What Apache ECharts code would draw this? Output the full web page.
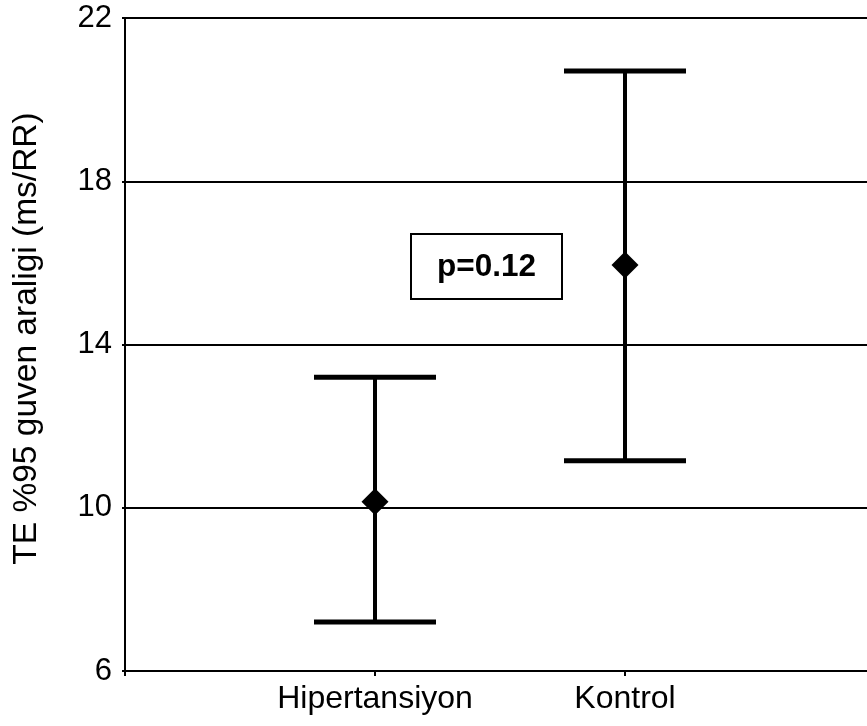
<!DOCTYPE html>
<html>
<head>
<meta charset="utf-8">
<script src="https://cdn.jsdelivr.net/npm/echarts@6/dist/echarts.min.js"></script>
<style>
html,body{margin:0;padding:0;background:#fff;}
#chart{width:867px;height:726px;}
</style>
</head>
<body>
<div id="chart"></div>
<script>
var categories = ['Hipertansiyon', 'Kontrol'];
var means = [10.15, 15.95];
var lower = [7.2, 11.15];
var upper = [13.2, 20.7];
var yTicks = [6, 10, 14, 18, 22];
var yTitle = 'TE %95 guven araligi (ms/RR)';
var pText = 'p=0.12';

var FONT = '"Liberation Sans", Arial, sans-serif';
var chart = echarts.init(document.getElementById('chart'), null, {renderer: 'canvas'});

var errData = categories.map(function (c, i) { return [i + 1, lower[i], upper[i]]; });
var meanData = categories.map(function (c, i) { return [i + 1, means[i]]; });

var option = {
  backgroundColor: '#ffffff',
  animation: false,
  grid: {left: 125, top: 18, width: 750, height: 653, containLabel: false, outerBoundsMode: 'none'},
  xAxis: {
    type: 'value', min: 0, max: categories.length + 1, interval: 1,
    axisLine: {show: true, lineStyle: {color: '#000', width: 2}},
    axisTick: {show: true, length: 5, lineStyle: {color: '#000', width: 2}},
    splitLine: {show: false},
    axisLabel: {
      margin: 12, color: '#000', fontFamily: FONT, fontSize: 32,
      formatter: function (v) { return categories[v - 1] || ''; }
    }
  },
  yAxis: {
    type: 'value', min: yTicks[0], max: yTicks[yTicks.length - 1], interval: 4,
    name: yTitle, nameLocation: 'middle', nameGap: 81,
    nameTextStyle: {color: '#000', fontFamily: FONT, fontSize: 33.5, padding: [0, 0, 0, 12]},
    axisLine: {show: true, lineStyle: {color: '#000', width: 2}},
    axisTick: {show: true, length: 3, lineStyle: {color: '#000', width: 2}},
    splitLine: {show: true, lineStyle: {color: '#000', width: 2}},
    axisLabel: {margin: 13, color: '#000', fontFamily: FONT, fontSize: 31}
  },
  graphic: [
    {type: 'rect', shape: {x: 411, y: 234, width: 151, height: 65},
     style: {fill: '#fff', stroke: '#000', lineWidth: 2}, z: 100},
    {type: 'text', x: 486.5, y: 267,
     style: {text: pText, font: 'bold 31.5px ' + FONT, fill: '#000', align: 'center', verticalAlign: 'middle'}, z: 101}
  ],
  series: [
    {
      type: 'custom',
      data: errData,
      renderItem: function (params, api) {
        var x = api.value(0);
        var lo = api.coord([x, api.value(1)]);
        var hi = api.coord([x, api.value(2)]);
        var hw = 61;
        return {
          type: 'group',
          children: [
            {type: 'line', shape: {x1: lo[0], y1: lo[1], x2: hi[0], y2: hi[1]}, style: {stroke: '#000', lineWidth: 4}},
            {type: 'line', shape: {x1: lo[0] - hw, y1: lo[1], x2: lo[0] + hw, y2: lo[1]}, style: {stroke: '#000', lineWidth: 5}},
            {type: 'line', shape: {x1: hi[0] - hw, y1: hi[1], x2: hi[0] + hw, y2: hi[1]}, style: {stroke: '#000', lineWidth: 5}}
          ]
        };
      },
      z: 5
    },
    {
      type: 'scatter',
      data: meanData,
      symbol: 'diamond',
      symbolSize: [27, 27],
      itemStyle: {color: '#000', opacity: 1},
      z: 6
    }
  ]
};
chart.setOption(option);
</script>
</body>
</html>
